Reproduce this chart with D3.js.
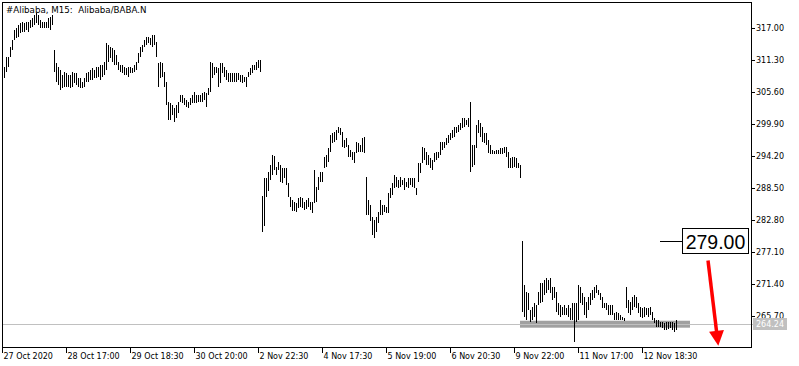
<!DOCTYPE html>
<html>
<head>
<meta charset="utf-8">
<script src="https://cdn.jsdelivr.net/npm/d3@7"></script>
<style>
  body { margin: 0; background: #fff; }
  svg { display: block; }
</style>
</head>
<body>
<div id="chart"></div>
<script>
// M15 bars, one entry per bar, left to right
var barHigh = [
  310.1,311.8,311.8,313.6,314.9,316.6,317.0,317.5,317.9,318.1,317.9,318.1,318.1,318.4,318.8,319.3,319.7,319.3,318.4,318.1,318.1,318.1,318.8,319.0,319.3,
  313.1,310.8,310.1,309.5,308.6,309.2,309.0,308.6,308.6,309.2,309.0,309.0,308.1,308.1,307.4,308.1,309.0,309.2,309.5,309.9,
  309.5,310.1,310.1,310.4,310.4,311.0,314.3,314.0,313.6,313.4,313.1,312.2,311.0,310.4,310.4,310.1,309.9,310.1,
  310.1,309.9,310.4,311.0,312.5,313.6,314.0,314.9,315.4,315.4,315.2,315.8,315.8,314.5,310.8,311.0,310.8,309.2,307.4,303.8,
  303.7,303.3,302.8,303.3,303.8,305.1,305.1,304.5,304.2,303.8,304.5,305.1,305.6,305.1,305.1,305.1,305.4,305.6,305.4,306.3,
  311.0,310.8,310.1,310.1,309.9,310.8,310.8,310.1,309.5,309.0,309.0,309.0,309.0,309.0,309.0,308.6,308.6,308.3,308.3,309.2,
  309.9,310.4,310.4,311.0,311.3,311.3,
  287.1,290.3,290.3,291.4,292.6,294.4,294.2,292.3,293.1,292.6,292.1,292.1,292.1,289.4,286.9,286.4,286.0,285.8,286.7,286.9,
  286.7,286.0,286.4,286.7,286.0,286.0,291.7,288.7,290.5,291.4,291.4,294.0,294.4,295.6,297.9,298.3,298.5,298.8,299.4,299.2,
  298.5,297.1,297.4,296.2,295.3,294.9,294.9,296.7,296.5,296.2,297.4,297.6,
  290.5,286.4,285.5,283.3,282.8,283.3,284.2,286.4,285.5,285.5,285.1,287.6,288.5,289.4,290.8,290.5,289.9,290.5,289.9,290.3,
  289.6,290.3,290.3,290.3,290.3,288.5,293.0,293.0,295.8,295.6,294.9,294.4,293.9,293.5,294.7,294.9,294.9,296.7,296.7,296.7,
  297.4,297.9,298.3,298.8,299.4,299.4,299.7,300.1,301.0,301.0,300.6,301.0,303.8,296.2,296.2,299.7,300.6,300.1,299.4,298.3,
  298.3,297.1,296.2,295.3,295.1,295.3,295.3,295.6,295.6,295.8,295.8,294.9,293.9,294.0,294.0,293.9,293.0,292.6,
  279.1,271.2,270.0,269.8,266.8,267.3,268.0,267.7,270.0,271.6,271.6,272.1,272.5,272.1,272.5,270.9,270.9,270.0,268.0,267.7,
  267.3,267.7,267.1,267.7,267.1,268.0,268.0,268.0,271.2,270.9,269.8,269.1,268.2,269.1,269.8,270.3,270.9,271.2,270.3,269.8,
  269.1,268.0,268.0,267.7,267.7,267.7,266.2,266.4,266.2,265.9,265.5,265.4,270.9,268.5,268.2,269.1,269.4,269.1,268.0,267.3,
  267.1,267.3,267.1,267.1,267.3,266.4,265.4,265.0,265.0,264.6,264.6,264.5,264.6,264.6,264.6,264.6,264.5,265.0
];
var barLow = [
  308.1,309.2,310.1,311.8,313.1,314.9,315.2,315.4,316.1,316.3,316.3,316.6,316.3,317.0,317.2,317.5,317.9,317.5,317.0,317.0,317.0,317.0,317.0,316.6,317.5,
  309.2,307.4,306.9,306.0,306.3,306.5,306.5,306.5,306.3,306.5,307.2,306.9,306.5,306.3,306.3,306.5,307.4,307.4,307.7,307.7,
  308.1,308.1,308.3,307.7,308.3,308.6,309.5,311.0,311.7,311.0,310.4,310.4,309.5,309.2,309.0,308.6,308.6,308.3,
  309.0,309.0,309.2,309.5,310.8,311.8,312.7,313.6,314.0,314.3,314.0,313.6,314.0,311.8,306.5,308.1,308.3,306.5,303.3,300.6,
  300.6,301.5,300.3,301.0,301.9,303.8,303.7,303.3,302.9,302.8,303.3,303.7,303.7,303.7,303.8,303.8,303.8,304.2,302.9,305.1,
  305.6,308.1,308.6,309.0,306.5,307.2,309.0,308.3,307.7,307.4,307.4,307.4,307.4,307.4,307.7,307.4,307.2,307.4,306.5,308.3,
  308.6,309.0,309.5,309.5,309.9,309.2,
  280.7,281.7,286.9,288.0,289.9,290.8,291.7,290.8,291.7,289.6,289.4,290.3,289.0,286.9,285.1,284.4,284.4,284.2,284.9,285.1,
  284.9,284.6,284.8,285.1,284.6,284.1,285.8,286.0,288.1,289.6,289.6,292.1,292.3,293.1,294.9,296.5,296.7,297.1,298.3,297.9,
  295.8,295.6,295.8,294.0,294.0,293.5,293.0,294.7,294.9,294.9,294.9,294.7,
  283.7,283.7,282.6,280.1,279.6,280.7,282.3,283.7,283.7,284.2,284.1,284.1,286.7,287.3,288.5,288.7,288.5,288.7,289.0,288.1,
  288.7,288.5,289.0,288.7,288.5,287.3,289.6,291.2,293.0,293.5,292.6,292.6,292.1,291.7,293.1,293.5,293.9,294.4,295.3,295.6,
  296.2,296.5,297.1,297.4,297.6,298.3,298.5,298.8,299.2,299.4,299.7,299.4,291.4,292.3,292.6,295.6,298.3,297.6,296.7,296.5,
  296.2,294.7,294.6,294.6,294.6,294.6,294.6,294.6,294.6,294.7,294.0,292.1,292.1,292.1,292.3,292.1,292.1,290.3,
  266.4,265.5,265.0,266.8,264.6,265.0,265.5,264.5,267.7,268.0,268.2,269.4,269.8,270.3,269.8,268.5,268.9,266.4,265.9,265.5,
  265.9,265.9,265.9,265.5,265.0,265.0,261.1,264.6,265.0,268.0,267.7,265.9,265.4,266.8,267.7,268.5,268.9,269.8,269.4,268.5,
  267.1,267.1,266.8,265.9,265.9,265.9,265.0,265.0,265.0,265.0,265.0,264.8,267.1,266.2,265.9,266.8,267.3,267.1,266.2,265.5,
  265.4,265.5,265.9,265.5,265.9,265.0,264.5,263.8,263.8,263.8,263.6,263.2,263.2,263.4,263.6,263.2,262.9,263.2
];

// time axis: labels and the bar slot each one sits on
var timeLabels = ["27 Oct 2020", "28 Oct 17:00", "29 Oct 18:30", "30 Oct 20:00", "2 Nov 22:30",
  "4 Nov 17:30", "5 Nov 19:00", "6 Nov 20:30", "9 Nov 22:00", "11 Nov 17:00", "12 Nov 18:30"];
var timeSlots = [0, 32, 64, 96, 128, 160, 192, 224, 256, 288, 320];

// price axis
var priceTicks = [317.00, 311.30, 305.60, 299.90, 294.20, 288.50, 282.80, 277.10, 271.40, 265.70];
var lastPrice = 264.24;

// drawn objects: support zone, level note, arrow
var zoneSlots = [259, 344];
var zonePrices = [263.62, 264.86];
var notePrice = 279.00;
var noteLineSlots = [329, 340];
var noteBoxSlots = [340, 373];
var arrowSlots = [353, 358.15];
var arrowPrices = [275.6, 260.4];

(function(){
  var width = 799,
    height = 366;
  var left = 2, right = 751, top = 2, bottom = 347;

  var svg = d3.select("#chart")
    .append("svg")
    .attr("width", width)
    .attr("height", height)
    .style("font-family", "'DejaVu Sans', sans-serif");

  svg.append("rect")
    .attr("width", width)
    .attr("height", height)
    .attr("fill", "#fff");

  // one slot = 2px, bars start at slot 1
  var x = d3.scaleLinear().domain([0, 374.5]).range([left, right]);
  var y = d3.scaleLinear().domain([260.18, 321.63]).range([bottom, top]);

  function px(s) { return Math.round(x(s)) + 0.5; }

  // support zone (under the bars)
  svg.append("rect")
    .attr("x", x(zoneSlots[0]))
    .attr("width", x(zoneSlots[1]) - x(zoneSlots[0]))
    .attr("y", y(zonePrices[1]))
    .attr("height", y(zonePrices[0]) - y(zonePrices[1]))
    .attr("fill", "#a0a0a0");

  // current price line
  svg.append("line")
    .attr("x1", left).attr("x2", right + 2)
    .attr("y1", Math.round(y(lastPrice)) + 0.5)
    .attr("y2", Math.round(y(lastPrice)) + 0.5)
    .attr("stroke", "#c0c0c0")
    .attr("shape-rendering", "crispEdges");

  // bars
  svg.append("g")
    .selectAll("line")
    .data(barHigh)
    .enter().append("line")
    .attr("x1", function(d, i){ return px(i + 1); })
    .attr("x2", function(d, i){ return px(i + 1); })
    .attr("y1", function(d){ return Math.round(y(d)); })
    .attr("y2", function(d, i){ return Math.max(Math.round(y(barLow[i])), Math.round(y(d)) + 1); })
    .attr("stroke", "#000")
    .attr("shape-rendering", "crispEdges");

  // frame
  svg.append("rect")
    .attr("x", left + 0.5).attr("y", top + 0.5)
    .attr("width", right - left).attr("height", bottom - top)
    .attr("fill", "none")
    .attr("stroke", "#000")
    .attr("shape-rendering", "crispEdges");

  // price axis
  var yAxis = svg.append("g")
    .attr("transform", "translate(" + right + ",0)")
    .call(d3.axisRight(y)
      .tickValues(priceTicks)
      .tickFormat(d3.format(".2f"))
      .tickSize(4)
      .tickSizeOuter(0)
      .tickPadding(1));
  yAxis.select(".domain").remove();
  yAxis.selectAll("text")
    .attr("font-family", "'DejaVu Sans', sans-serif")
    .attr("font-size", 8)
    .attr("fill", "#000");

  // time axis
  var xAxis = svg.append("g")
    .attr("transform", "translate(0," + bottom + ")")
    .call(d3.axisBottom(x)
      .tickValues(timeSlots)
      .tickFormat(function(d, i){ return timeLabels[i]; })
      .tickSize(6)
      .tickSizeOuter(0)
      .tickPadding(0.5));
  xAxis.select(".domain").remove();
  xAxis.selectAll("text")
    .attr("text-anchor", "start")
    .attr("x", 1)
    .attr("font-family", "'DejaVu Sans', sans-serif")
    .attr("font-size", 8)
    .attr("fill", "#000");

  // last price tag
  var ly = Math.round(y(lastPrice));
  svg.append("rect")
    .attr("x", right + 2).attr("y", ly - 6)
    .attr("width", 34).attr("height", 12)
    .attr("fill", "#c0c0c0");
  svg.append("text")
    .attr("x", right + 5).attr("y", ly + 3)
    .attr("font-size", 8)
    .attr("fill", "#fff")
    .text(d3.format(".2f")(lastPrice));

  // title
  svg.append("text")
    .attr("x", 6).attr("y", 13)
    .attr("font-size", 8.7)
    .style("white-space", "pre")
    .text("#Alibaba, M15:  Alibaba/BABA.N");

  // level note
  var ny = Math.round(y(notePrice)) + 0.5;
  svg.append("line")
    .attr("x1", x(noteLineSlots[0])).attr("x2", x(noteLineSlots[1]))
    .attr("y1", ny).attr("y2", ny)
    .attr("stroke", "#000")
    .attr("shape-rendering", "crispEdges");
  svg.append("rect")
    .attr("x", Math.round(x(noteBoxSlots[0])) + 0.5)
    .attr("y", ny - 13)
    .attr("width", x(noteBoxSlots[1]) - x(noteBoxSlots[0]))
    .attr("height", 25)
    .attr("fill", "#fff")
    .attr("stroke", "#000")
    .attr("shape-rendering", "crispEdges");
  svg.append("text")
    .attr("x", (x(noteBoxSlots[0]) + x(noteBoxSlots[1])) / 2 + 0.5)
    .attr("y", ny + 7)
    .attr("text-anchor", "middle")
    .attr("font-family", "'Liberation Sans', Arial, sans-serif")
    .attr("font-size", 19.5)
    .text(d3.format(".2f")(notePrice));

  // red arrow
  var ax0 = x(arrowSlots[0]), ay0 = y(arrowPrices[0]),
    ax1 = x(arrowSlots[1]), ay1 = y(arrowPrices[1]);
  var len = Math.hypot(ax1 - ax0, ay1 - ay0),
    ux = (ax1 - ax0) / len, uy = (ay1 - ay0) / len;
  var headLen = 15, headHalf = 7.5;
  var bx = ax1 - ux * headLen, by = ay1 - uy * headLen;
  svg.append("line")
    .attr("x1", ax0).attr("y1", ay0)
    .attr("x2", bx + ux * 2).attr("y2", by + uy * 2)
    .attr("stroke", "#f00")
    .attr("stroke-width", 3.5);
  svg.append("path")
    .attr("d", "M" + ax1 + "," + ay1 +
      "L" + (bx - uy * headHalf) + "," + (by + ux * headHalf) +
      "L" + (bx + uy * headHalf) + "," + (by - ux * headHalf) + "Z")
    .attr("fill", "#f00");

})();
</script>
</body>
</html>
